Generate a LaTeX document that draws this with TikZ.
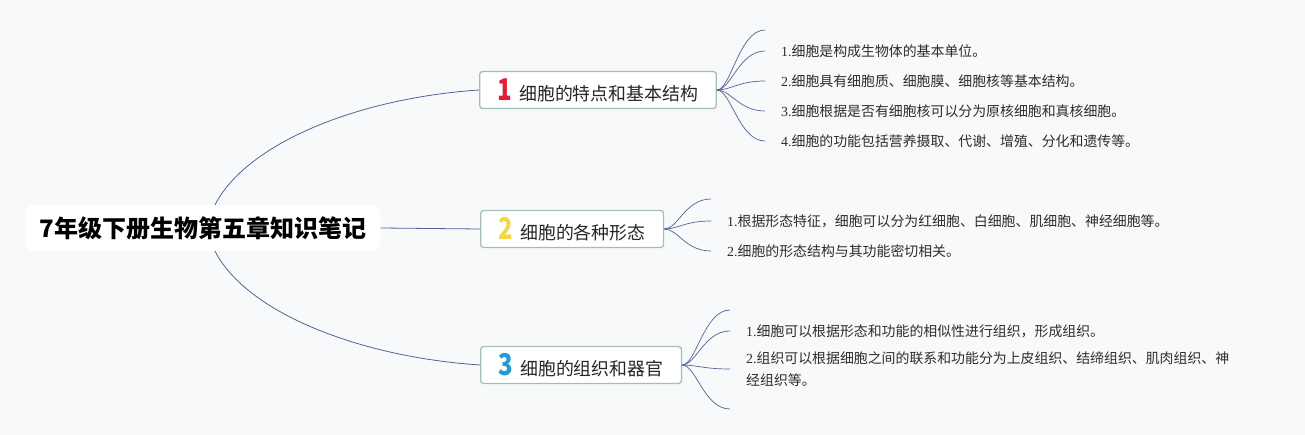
\documentclass[tikz,border=0pt]{standalone}
\usepackage{fontspec}
\setmainfont{Noto Sans CJK SC}
\newfontfamily\numfont{Liberation Serif}
\usetikzlibrary{positioning, calc}
\definecolor{bgcolor}{RGB}{248,249,250}
\definecolor{linkblue}{RGB}{84,98,150}
\definecolor{boxedge}{RGB}{160,192,182}
\definecolor{numred}{RGB}{226,30,60}
\definecolor{numyellow}{RGB}{245,212,70}
\definecolor{numblue}{RGB}{35,155,215}
\definecolor{leaftext}{RGB}{45,45,45}
\newcommand{\topicno}[2]{\scalebox{0.8}[1]{\color{#1}\fontsize{30}{30}\selectfont\bfseries #2}\hspace{7pt}}
\newcommand{\ordno}[1]{{\numfont #1}}
\tikzset{
    root/.style={rectangle, rounded corners=8pt, fill=white, minimum width=355pt, minimum height=46pt, text=black, font=\fontsize{24}{30}\selectfont\bfseries},
    topic/.style={rectangle, rounded corners=3pt, draw=boxedge, line width=1.3pt, fill=white, minimum height=37pt, inner xsep=18pt, inner ysep=3pt, anchor=west, text=black!85, font=\fontsize{17.9}{21}\selectfont},
    leaf/.style={anchor=west, inner xsep=16pt, inner ysep=2pt, align=left, text=leaftext, font=\fontsize{13.9}{22}\selectfont},
    link/.style={draw=linkblue, line width=0.8pt},
    fan/.style={draw=linkblue, line width=0.7pt},
}

\begin{document}
\begin{tikzpicture}[x=1pt, y=-1pt]
        \fill[bgcolor] (0,0) rectangle (1305,435);

        % Nodes
        \node[root] (root) at (203,228) {7年级下册生物第五章知识笔记};

        \node[topic] (t1) at (479,90) {\topicno{numred}{1}细胞的特点和基本结构};
        \node[topic] (t2) at (480,229) {\topicno{numyellow}{2}细胞的各种形态};
        \node[topic] (t3) at (480,365) {\topicno{numblue}{3}细胞的组织和器官};

        \coordinate (t1x) at (765,30);
        \node[leaf] (t1a) at (765,51) {\ordno{1.}细胞是构成生物体的基本单位。};
        \node[leaf] (t1b) at (765,81) {\ordno{2.}细胞具有细胞质、细胞膜、细胞核等基本结构。};
        \node[leaf] (t1c) at (765,111) {\ordno{3.}细胞根据是否有细胞核可以分为原核细胞和真核细胞。};
        \node[leaf] (t1d) at (765,141) {\ordno{4.}细胞的功能包括营养摄取、代谢、增殖、分化和遗传等。};

        \coordinate (t2x) at (711,199);
        \node[leaf] (t2a) at (711,221) {\ordno{1.}根据形态特征，细胞可以分为红细胞、白细胞、肌细胞、神经细胞等。};
        \node[leaf] (t2b) at (711,251) {\ordno{2.}细胞的形态结构与其功能密切相关。};

        \coordinate (t3x) at (730,310);
        \node[leaf] (t3a) at (730,331) {\ordno{1.}细胞可以根据形态和功能的相似性进行组织，形成组织。};
        \node[leaf] (t3b) at (730,369) {\ordno{2.}组织可以根据细胞之间的联系和功能分为上皮组织、结缔组织、肌肉组织、神\\经组织等。};
        \coordinate (t3y) at (730,409);

        % Connections
        \draw[link] ([xshift=12pt]root.north) .. controls +(32,-62) and +(-120,8) .. (t1.west);
        \draw[link] (root.east) -- (t2.west);
        \draw[link] ([xshift=12pt]root.south) .. controls +(32,62) and +(-120,-8) .. (t3.west);

        \foreach \leafname in {t1x, t1a, t1b, t1c, t1d}
            \draw[fan] (t1.east) .. controls +(14,0) and +(-26,0) .. (\leafname.west);
        \foreach \leafname in {t2x, t2a, t2b}
            \draw[fan] (t2.east) .. controls +(14,0) and +(-26,0) .. (\leafname.west);
        \foreach \leafname in {t3x, t3a, t3b, t3y}
            \draw[fan] (t3.east) .. controls +(14,0) and +(-26,0) .. (\leafname.west);
    \end{tikzpicture}
\end{document}
